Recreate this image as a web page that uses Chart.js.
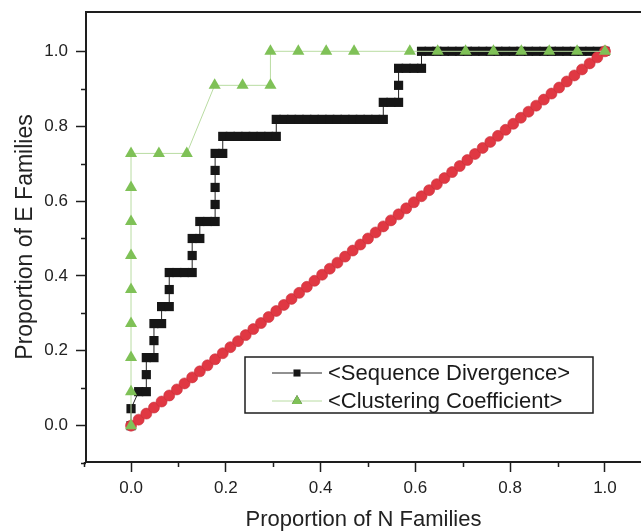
<!DOCTYPE html>
<html lang="en">
<head>
<meta charset="UTF-8">
<title>Proportion of E Families vs Proportion of N Families</title>
<script src="https://cdn.jsdelivr.net/npm/chart.js"></script>
<style>
    html, body { margin: 0; padding: 0; background: #ffffff; }
    #grafico { display: block; }
</style>
</head>
<body>
<canvas id="grafico" width="641" height="531"></canvas>
<script>
    // family counts (x = N count / totalN, y = E count / totalE)
    const sdTotalN = 62
    const sdTotalE = 22
    const sdCountN = [
        0,
        0,
        1, 2,
        2,
        2, 3,
        3,
        3, 4,
        4, 5,
        5,
        5, 6, 7, 8,
        8,
        8, 9,
        9, 10, 11,
        11,
        11,
        11,
        11, 12,
        12, 13, 14, 15, 16, 17, 18, 19,
        19, 20, 21, 22, 23, 24, 25, 26, 27, 28, 29, 30, 31, 32, 33,
        33, 34, 35,
        35,
        35, 36, 37, 38,
        38, 39, 40, 41, 42, 43, 44, 45, 46, 47, 48, 49, 50, 51, 52, 53, 54, 55, 56, 57, 58, 59, 60, 61, 62
    ]
    const sdCountE = [
        0,
        1,
        2, 2,
        3,
        4, 4,
        5,
        6, 6,
        7, 7,
        8,
        9, 9, 9, 9,
        10,
        11, 11,
        12, 12, 12,
        13,
        14,
        15,
        16, 16,
        17, 17, 17, 17, 17, 17, 17, 17,
        18, 18, 18, 18, 18, 18, 18, 18, 18, 18, 18, 18, 18, 18, 18,
        19, 19, 19,
        20,
        21, 21, 21, 21,
        22, 22, 22, 22, 22, 22, 22, 22, 22, 22, 22, 22, 22, 22, 22, 22, 22, 22, 22, 22, 22, 22, 22, 22, 22
    ]

    const ccTotalN = 17
    const ccTotalE = 11
    const ccCountN = [0, 0, 0, 0, 0, 0, 0, 0, 0, 1, 2, 3, 4, 5, 5, 6, 7, 8, 10, 11, 12, 13, 14, 15, 16, 17]
    const ccCountE = [0, 1, 2, 3, 4, 5, 6, 7, 8, 8, 8, 10, 10, 10, 11, 11, 11, 11, 11, 11, 11, 11, 11, 11, 11, 11]

    // random baseline (diagonal)
    const rdCount = [
        0, 1, 2, 3, 4, 5, 6, 7, 8, 9, 10, 11, 12, 13, 14, 15, 16, 17, 18, 19, 20,
        21, 22, 23, 24, 25, 26, 27, 28, 29, 30, 31, 32, 33, 34, 35, 36, 37, 38, 39, 40,
        41, 42, 43, 44, 45, 46, 47, 48, 49, 50, 51, 52, 53, 54, 55, 56, 57, 58, 59, 60, 61, 62
    ]

    const xTicks = [0, 0.2, 0.4, 0.6, 0.8, 1.0]
    const yTicks = [0, 0.2, 0.4, 0.6, 0.8, 1.0]
    const xMinor = [-0.1, 0.1, 0.3, 0.5, 0.7, 0.9]
    const yMinor = [-0.1, 0.1, 0.3, 0.5, 0.7, 0.9]

    const fonte = '"Liberation Sans", Arial, sans-serif'
    const corEixo = '#1e1e1e'

    const sdData = sdCountN.map((n, i) => ({ x: n / sdTotalN, y: sdCountE[i] / sdTotalE }))
    const ccData = ccCountN.map((n, i) => ({ x: n / ccTotalN, y: ccCountE[i] / ccTotalE }))
    const rdData = rdCount.map(n => ({ x: n / sdTotalN, y: n / sdTotalN }))

    // minor ticks + top frame line
    const moldura = {
        id: 'moldura',
        afterDraw(chart) {
            const c = chart.ctx
            const area = chart.chartArea
            const xs = chart.scales.x
            const ys = chart.scales.y
            c.save()
            c.strokeStyle = corEixo
            c.lineWidth = 2
            c.beginPath()
            c.moveTo(area.left - 1, area.top)
            c.lineTo(area.right, area.top)
            c.stroke()
            c.lineWidth = 1.5
            c.beginPath()
            xMinor.forEach(v => {
                const px = Math.round(xs.getPixelForValue(v)) + 0.5
                c.moveTo(px, area.bottom)
                c.lineTo(px, area.bottom + 5)
            })
            yMinor.forEach(v => {
                const py = Math.round(ys.getPixelForValue(v)) + 0.5
                c.moveTo(area.left - 5, py)
                c.lineTo(area.left, py)
            })
            c.stroke()
            c.restore()
        }
    }

    // legend box inside the plot
    const legenda = {
        id: 'legenda',
        afterDraw(chart) {
            const c = chart.ctx
            const area = chart.chartArea
            const bx = area.left + 159
            const by = area.bottom - 105
            const bw = 348
            const bh = 56
            c.save()
            c.fillStyle = '#ffffff'
            c.fillRect(bx, by, bw, bh)
            c.strokeStyle = corEixo
            c.lineWidth = 1.5
            c.strokeRect(bx, by, bw, bh)

            const linhas = [
                { ds: chart.data.datasets[0], y: by + 16 },
                { ds: chart.data.datasets[2], y: by + 44 }
            ]
            linhas.forEach(l => {
                c.strokeStyle = l.ds.borderColor
                c.lineWidth = 1
                c.beginPath()
                c.moveTo(bx + 27, l.y)
                c.lineTo(bx + 77, l.y)
                c.stroke()
                Chart.helpers.drawPoint(c, {
                    pointStyle: l.ds.pointStyle,
                    radius: l.ds.pointStyle === 'rect' ? 5 : 6,
                    rotation: 0,
                    borderWidth: 0
                }, bx + 52, l.y)
                c.fillStyle = l.ds.pointBackgroundColor
                c.fill()
                c.fillStyle = '#1a1a1a'
                c.font = '22px ' + fonte
                c.textBaseline = 'middle'
                c.textAlign = 'left'
                c.fillText(l.ds.label, bx + 83, l.y + 1)
            })
            c.restore()
        }
    }

    Chart.defaults.font.family = fonte
    Chart.defaults.color = corEixo

    const ctx = document.getElementById('grafico')

    const chart1 = new Chart(ctx, {
        type: 'scatter',
        data: {
            datasets: [{
                label: '<Sequence Divergence>',
                data: sdData,
                showLine: true,
                borderColor: '#222222',
                borderWidth: 1,
                pointStyle: 'rect',
                pointRadius: 6.5,
                pointBackgroundColor: '#161616',
                pointBorderWidth: 0,
                order: 3
            }, {
                label: 'Random',
                data: rdData,
                showLine: false,
                pointStyle: 'circle',
                pointRadius: 5.5,
                pointBackgroundColor: '#e03843',
                pointBorderColor: '#c92f3a',
                pointBorderWidth: 0.6,
                order: 2
            }, {
                label: '<Clustering Coefficient>',
                data: ccData,
                showLine: true,
                borderColor: '#b9dca2',
                borderWidth: 1,
                pointStyle: 'triangle',
                pointRadius: 7,
                pointBackgroundColor: '#7fc157',
                pointBorderWidth: 0,
                order: 1
            }]
        },
        options: {
            responsive: false,
            animation: false,
            devicePixelRatio: 1,
            layout: {
                autoPadding: false,
                padding: { top: 12, right: 0, left: 0, bottom: 0 }
            },
            plugins: {
                legend: { display: false },
                tooltip: { enabled: false }
            },
            scales: {
                x: {
                    type: 'linear',
                    min: -0.095,
                    max: 1.076,
                    afterBuildTicks: (s) => { s.ticks = xTicks.map(v => ({ value: v })) },
                    afterFit: (s) => {
                        s.height = 69
                        s.paddingLeft = 0
                        s.paddingRight = 0
                    },
                    grid: {
                        drawOnChartArea: false,
                        drawTicks: true,
                        tickLength: 10,
                        tickColor: corEixo,
                        tickWidth: 1.5
                    },
                    border: { color: corEixo, width: 2 },
                    ticks: {
                        padding: 6,
                        color: '#222222',
                        font: { size: 17 },
                        maxRotation: 0,
                        callback: (v) => Number(v).toFixed(1)
                    },
                    title: {
                        display: true,
                        text: 'Proportion of N Families',
                        color: '#222222',
                        font: { size: 22, lineHeight: 1 },
                        padding: { top: 0, bottom: 0 }
                    }
                },
                y: {
                    type: 'linear',
                    min: -0.097,
                    max: 1.105,
                    afterBuildTicks: (s) => { s.ticks = yTicks.map(v => ({ value: v })) },
                    afterFit: (s) => {
                        s.width = 86
                        s.paddingTop = 0
                        s.paddingBottom = 0
                    },
                    grid: {
                        drawOnChartArea: false,
                        drawTicks: true,
                        tickLength: 10,
                        tickColor: corEixo,
                        tickWidth: 1.5
                    },
                    border: { color: corEixo, width: 2 },
                    ticks: {
                        padding: 8,
                        color: '#222222',
                        font: { size: 17 },
                        callback: (v) => Number(v).toFixed(1)
                    },
                    title: {
                        display: true,
                        text: 'Proportion of E Families',
                        color: '#222222',
                        font: { size: 23, lineHeight: 1 },
                        padding: { top: 14, bottom: 0 }
                    }
                }
            }
        },
        plugins: [moldura, legenda]
    });
</script>
</body>
</html>
